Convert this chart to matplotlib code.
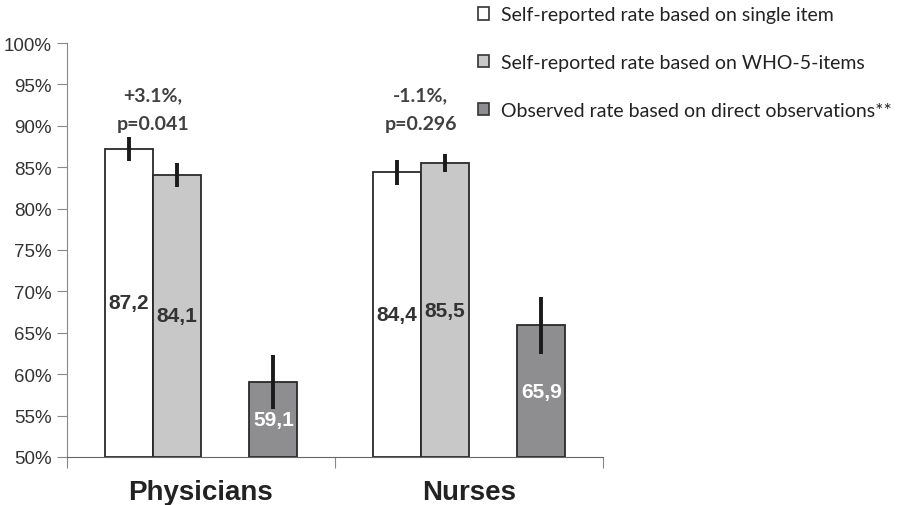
import numpy as np
import matplotlib.pyplot as plt
from matplotlib.patches import Patch
from matplotlib.ticker import MultipleLocator, FuncFormatter

groups = ["Physicians", "Nurses"]
series = ["Self-reported rate based on single item",
          "Self-reported rate based on WHO-5-items",
          "Observed rate based on direct observations**"]
single_item = [87.2, 84.4]
who5 = [84.1, 85.5]
observed = [59.1, 65.9]
err_single = [1.45, 1.5]
err_who5 = [1.45, 1.1]
err_observed = [3.25, 3.4]
value_labels = [["87,2", "84,4"], ["84,1", "85,5"], ["59,1", "65,9"]]
diff_labels = ["+3.1%,\np=0.041", "-1.1%,\np=0.296"]

fig = plt.figure(figsize=(8.98, 5.06), dpi=100)
ax = fig.add_axes([67 / 898, 48 / 506, 536 / 898, 414 / 506])

x = np.arange(len(groups))
w = 0.18
offsets = [-1.5 * w, -0.5 * w, 1.5 * w]
colors = ["white", "#c8c8c8", "#8e8e90"]
values = [single_item, who5, observed]
errors = [err_single, err_who5, err_observed]

for i in range(3):
    ax.bar(x + offsets[i], np.array(values[i]) - 50, bottom=50, width=w,
           color=colors[i], edgecolor="#2a2a2a", linewidth=1.3, zorder=2)
    ax.errorbar(x + offsets[i], values[i], yerr=errors[i], fmt="none",
                ecolor="#1a1a1a", elinewidth=2.8, capsize=0, zorder=3)
    for j in range(len(groups)):
        tc = "white" if i == 2 else "#333333"
        ax.text(x[j] + offsets[i], (50 + values[i][j]) / 2, value_labels[i][j],
                ha="center", va="center", fontsize=15, fontweight="bold",
                color=tc, family="Liberation Sans", zorder=4)

for j in range(len(groups)):
    ax.text(x[j] - w, 89.3, diff_labels[j], ha="center", va="bottom",
            fontsize=14, fontweight="bold", color="#404040", family="Lato",
            linespacing=1.8)

ax.set_ylim(50, 100)
ax.set_xlim(-0.5, 1.5)
ax.yaxis.set_major_locator(MultipleLocator(5))
ax.yaxis.set_major_formatter(FuncFormatter(lambda v, p: "%d%%" % v))
ax.tick_params(axis="y", length=7, color="#888888", labelsize=13.5,
               labelcolor="#333333", pad=4)
for lab in ax.get_yticklabels():
    lab.set_family("Liberation Sans")

ax.set_xticks([-0.5, 0.5, 1.5])
ax.set_xticklabels([])
ax.tick_params(axis="x", which="major", length=8, color="#888888")
ax.set_xticks(x, minor=True)
ax.set_xticklabels(groups, minor=True, fontsize=20, fontweight="bold",
                   family="Liberation Sans", color="#222222")
ax.tick_params(axis="x", which="minor", length=0, pad=16)

for s in ["top", "right"]:
    ax.spines[s].set_visible(False)
ax.spines["left"].set_color("#888888")
ax.spines["bottom"].set_color("#666666")

handles = [Patch(facecolor=c, edgecolor="#333333", linewidth=1.2) for c in colors]
leg = fig.legend(handles, series, loc="upper left",
                 bbox_to_anchor=(460 / 898, 1.02), frameon=False,
                 handlelength=0.6, handleheight=0.6, handletextpad=0.6,
                 labelspacing=1.58, prop={"family": "Lato", "size": 14})
for t in leg.get_texts():
    t.set_color("#222222")

fig.savefig("out.png", dpi=100)
